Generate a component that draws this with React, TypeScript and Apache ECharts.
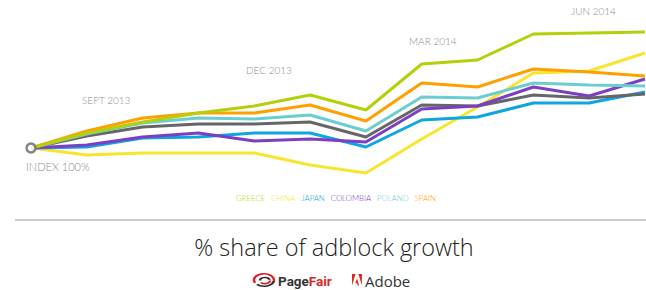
import React, { useEffect, useRef } from "react";
import * as echarts from "echarts";

const categories = ["Aug 2013", "Sep 2013", "Oct 2013", "Nov 2013", "Dec 2013", "Jan 2014", "Feb 2014", "Mar 2014", "Apr 2014", "May 2014", "Jun 2014", "Jul 2014"];
const greece = [100, 115, 126, 135, 142, 153, 138, 184, 188, 214, 215, 216];
const china = [100, 93, 95, 95, 95, 83, 75, 109, 141, 175, 177, 195];
const japan = [100, 101, 110, 111, 115, 115, 101, 128, 131, 145, 145, 156];
const colombia = [100, 103, 111, 115, 107, 109, 106, 139, 142, 161, 152, 169];
const poland = [100, 114, 125, 130, 129, 133, 117, 151, 150, 165, 163, 162];
const spain = [100, 117, 130, 135, 135, 143, 127, 165, 161, 179, 176, 172];
const average = [100, 112, 121, 124, 124, 126, 111, 143, 142, 153, 150, 154];
const periodLabels = ["SEPT 2013", "DEC 2013", "MAR 2014", "JUN 2014"];
const indexLabel = "INDEX 100%";
const titleText = "% share of adblock growth";

const ADOBE_D =
  "M0 0H10.6L0 25Z M19.4 0H30V25Z M15 9.3L21.6 25H17.3L15.3 20H10.4Z";

export default function App() {
  const ref = useRef<HTMLDivElement>(null);
  useEffect(() => {
    if (!ref.current) return;
    try {
      echarts.graphic.registerShape("adobeLogo", echarts.graphic.extendPath(ADOBE_D, {}));
    } catch (e) {}
    const chart = echarts.init(ref.current, null, { renderer: "svg" });
    const font = "'Open Sans', 'Noto Sans', sans-serif";
    const lato = "Lato, 'Open Sans', sans-serif";
    const mk = (name: string, data: number[], color: string, z: number) => ({
      name,
      type: "line",
      data,
      symbol: "none",
      z,
      lineStyle: { color, width: 3 },
      itemStyle: { color },
    });
    const legendItems = [
      { name: "GREECE", color: "#b5cf0a" },
      { name: "CHINA", color: "#f7e52e" },
      { name: "JAPAN", color: "#0ea5e0" },
      { name: "COLOMBIA", color: "#7b3fc4" },
      { name: "POLAND", color: "#6ccdd0" },
      { name: "SPAIN", color: "#ffa000" },
    ];
    chart.setOption({
      animation: false,
      backgroundColor: "#ffffff",
      grid: { left: 31, right: 1, top: 10, height: 180 },
      xAxis: {
        type: "category",
        data: categories,
        boundaryGap: false,
        show: false,
      },
      yAxis: { type: "value", min: 58, max: 238, show: false },
      legend: {
        data: legendItems.map((l) => ({ name: l.name, icon: "none", textStyle: { color: l.color } })),
        left: 231,
        top: 194,
        itemWidth: 0,
        itemHeight: 0,
        itemGap: 1,
        padding: 0,
        textStyle: { fontSize: 7.8, fontFamily: lato, fontWeight: 300, padding: [0, 0, 0, 0] },
        selectedMode: false,
      },
      series: [
        mk("CHINA", china, "#f7e52e", 2),
        mk("JAPAN", japan, "#0ea5e0", 3),
        mk("AVERAGE", average, "#666666", 4),
        mk("COLOMBIA", colombia, "#7b3fc4", 5),
        mk("POLAND", poland, "#6ccdd0", 6),
        mk("SPAIN", spain, "#ffa000", 7),
        mk("GREECE", greece, "#b5cf0a", 8),
        {
          name: "index",
          type: "scatter",
          data: [[0, average[0]]],
          symbol: "circle",
          symbolSize: 9,
          z: 20,
          itemStyle: { color: "#ffffff", borderColor: "#666666", borderWidth: 2.5 },
        },
      ],
      graphic: [
        { type: "text", left: 82, top: 95, style: { text: periodLabels[0], fill: "#8c8c8c", font: `300 10px ${lato}` } },
        { type: "text", left: 246, top: 65, style: { text: periodLabels[1], fill: "#8c8c8c", font: `300 10px ${lato}` } },
        { type: "text", left: 409, top: 36, style: { text: periodLabels[2], fill: "#8c8c8c", font: `300 10px ${lato}` } },
        { type: "text", left: 571, top: 6, style: { text: periodLabels[3], fill: "#8c8c8c", font: `300 10px ${lato}` } },
        { type: "text", left: 26, top: 161, style: { text: indexLabel, fill: "#8c8c8c", font: `300 11px ${lato}` } },
        {
          type: "rect",
          shape: { x: 15, y: 219, width: 640, height: 2 },
          style: { fill: "#cccccc" },
        },
        {
          type: "text",
          x: 334,
          y: 247,
          style: {
            text: titleText,
            fill: "#222222",
            font: `300 23.5px ${font}`,
            textAlign: "center",
            textVerticalAlign: "middle",
          },
        },
        {
          type: "group",
          x: 264,
          y: 280,
          scaleY: 0.62,
          children: [
            {
              type: "arc",
              shape: { cx: 0, cy: 0, r: 10, startAngle: Math.PI * 0.85, endAngle: Math.PI * 2.05, clockwise: true },
              style: { stroke: "#d9252a", lineWidth: 2.6, fill: null },
            },
            {
              type: "arc",
              shape: { cx: 0, cy: 0, r: 10, startAngle: Math.PI * 0.05, endAngle: Math.PI * 0.75, clockwise: true },
              style: { stroke: "#333333", lineWidth: 2.6, fill: null },
            },
            {
              type: "arc",
              shape: { cx: 1, cy: 1, r: 5, startAngle: Math.PI * 1.0, endAngle: Math.PI * 1.9, clockwise: true },
              style: { stroke: "#333333", lineWidth: 2.4, fill: null },
            },
            {
              type: "arc",
              shape: { cx: 1, cy: 1, r: 5, startAngle: Math.PI * 0.0, endAngle: Math.PI * 0.8, clockwise: true },
              style: { stroke: "#d9252a", lineWidth: 2.4, fill: null },
            },
          ],
        },
        {
          type: "text",
          x: 278,
          y: 281,
          style: {
            text: "{a|Page}{b|Fair}",
            textVerticalAlign: "middle",
            rich: {
              a: { fill: "#333333", font: "bold 13.5px Roboto, sans-serif" },
              b: { fill: "#d9252a", font: "bold 13.5px Roboto, sans-serif" },
            },
          },
        },
        {
          type: "adobeLogo",
          x: 352,
          y: 274,
          scaleX: 0.33,
          scaleY: 0.46,
          style: { fill: "#e1251b" },
        },
        {
          type: "text",
          x: 365,
          y: 281,
          style: {
            text: "Adobe",
            fill: "#333333",
            font: `15px ${font}`,
            textVerticalAlign: "middle",
          },
        },
      ],
    });
    return () => chart.dispose();
  }, []);
  return (
    <div
      ref={ref}
      style={{ position: "fixed", left: 0, top: 0, width: 646, height: 290, background: "#fff" }}
    />
  );
}
